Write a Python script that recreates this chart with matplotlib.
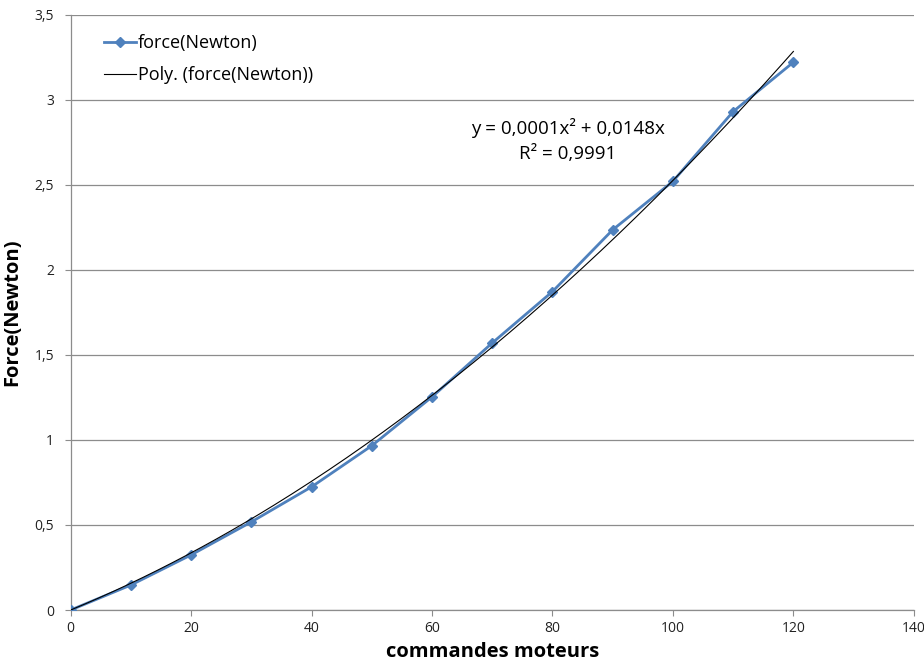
import numpy as np
from matplotlib import pyplot as plt
from matplotlib.ticker import FuncFormatter

plt.rcParams["font.family"] = ["Open Sans", "DejaVu Sans"]

# commandes moteurs et force mesuree
commandes = [0, 10, 20, 30, 40, 50, 60, 70, 80, 90, 100, 110, 120]
force = [0, 0.147, 0.324, 0.518, 0.724, 0.966, 1.253, 1.57, 1.872, 2.235, 2.52, 2.93, 3.22]

x_ticks = [0, 20, 40, 60, 80, 100, 120, 140]
y_ticks = [0, 0.5, 1, 1.5, 2, 2.5, 3, 3.5]

equation = "y = 0,0001x² + 0,0148x\nR² = 0,9991"

# trendline polynomiale d'ordre 2, passant par l'origine (comme Excel)
xa = np.array(commandes, dtype=float)
ya = np.array(force)
A = np.column_stack([xa ** 2, xa])
coef, *_ = np.linalg.lstsq(A, ya, rcond=None)
xs = np.linspace(0, 120, 200)
ys = coef[0] * xs ** 2 + coef[1] * xs

fig = plt.figure(figsize=(9.24, 6.64), dpi=100)
ax = fig.add_axes([0.0765, 0.0813, 0.9125, 0.8967])

ax.plot(commandes, force, color="#4F81BD", lw=2.0, marker="D", ms=5.5,
        label="force(Newton)", zorder=3)
ax.plot(xs, ys, color="black", lw=0.8, label="Poly. (force(Newton))", zorder=4)

ax.set_xlim(0, 140)
ax.set_ylim(0, 3.5)
ax.set_xticks(x_ticks)
ax.set_yticks(y_ticks)

fmt = FuncFormatter(lambda v, p: ("%g" % v).replace(".", ","))
ax.yaxis.set_major_formatter(fmt)
ax.xaxis.set_major_formatter(fmt)

ax.grid(axis="y", color="#8c8c8c", lw=0.9)
ax.set_axisbelow(True)
for s in ["top", "right"]:
    ax.spines[s].set_visible(False)
for s in ["left", "bottom"]:
    ax.spines[s].set_color("#8c8c8c")
    ax.spines[s].set_linewidth(0.9)
ax.tick_params(colors="#8c8c8c", labelcolor="#222222", labelsize=10, length=4,
               direction="out")
ax.tick_params(axis="y", pad=8)
ax.tick_params(axis="x", pad=4)

ax.text(82.5, 2.76, equation, ha="center", va="center", fontsize=13.5,
        linespacing=1.5)

ax.set_xlabel("commandes moteurs", fontsize=14.5, fontweight="bold", labelpad=4)
ax.set_ylabel("Force(Newton)", fontsize=14.5, fontweight="bold", labelpad=9)

ax.legend(loc="upper left", bbox_to_anchor=(0.02, 0.995), frameon=False,
          fontsize=13, handlelength=1.8, handletextpad=0.1, labelspacing=0.8)

fig.savefig("out.png", dpi=100)
